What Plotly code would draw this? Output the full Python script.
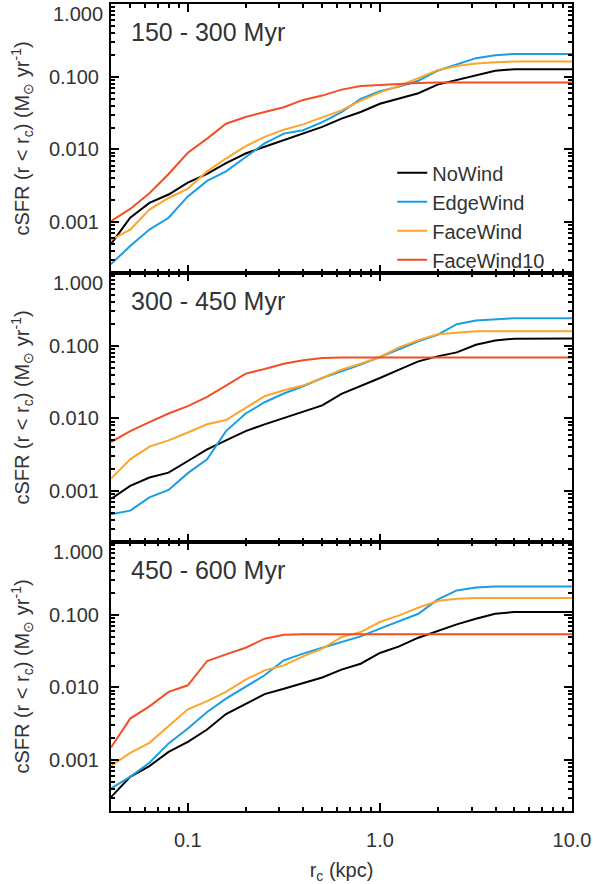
import plotly.graph_objects as go
from plotly.subplots import make_subplots

# ---------------- data ----------------
r_c = [0.0398, 0.0501, 0.0631, 0.0794, 0.100, 0.126, 0.158, 0.200, 0.251, 0.316,
       0.398, 0.501, 0.631, 0.794, 1.000, 1.259, 1.585, 1.995, 2.512, 3.162,
       3.981, 5.012, 6.310, 7.943, 10.000]

panel_labels = ["150 - 300 Myr", "300 - 450 Myr", "450 - 600 Myr"]
series_names = ["NoWind", "EdgeWind", "FaceWind", "FaceWind10"]

p1_nowind = [0.0005, 0.00115, 0.00184, 0.0024, 0.0035, 0.0046, 0.0065, 0.0088, 0.0109, 0.0134,
             0.0165, 0.0204, 0.0265, 0.0327, 0.0424, 0.0507, 0.0593, 0.0778, 0.090, 0.106,
             0.121, 0.127, 0.127, 0.127, 0.127]
p1_edgewind = [0.000265, 0.00047, 0.00079, 0.00115, 0.00226, 0.0037, 0.005, 0.0079, 0.0121, 0.0165,
               0.0184, 0.0238, 0.0327, 0.0496, 0.063, 0.073, 0.088, 0.121, 0.146, 0.18,
               0.197, 0.206, 0.206, 0.206, 0.206]
p1_facewind = [0.00057, 0.00079, 0.00149, 0.00215, 0.0029, 0.005, 0.0075, 0.0111, 0.0149, 0.0187,
               0.0221, 0.0273, 0.0344, 0.047, 0.061, 0.075, 0.096, 0.123, 0.14, 0.152,
               0.158, 0.162, 0.162, 0.162, 0.162]
p1_facewind10 = [0.00103, 0.00152, 0.0025, 0.0046, 0.009, 0.0141, 0.0226, 0.0279, 0.0327, 0.038,
                 0.048, 0.055, 0.0665, 0.0746, 0.077, 0.080, 0.082, 0.083, 0.083, 0.083,
                 0.083, 0.083, 0.083, 0.083, 0.083]

p2_nowind = [0.00078, 0.00118, 0.00154, 0.0018, 0.0026, 0.00376, 0.005, 0.0067, 0.0083, 0.0102,
             0.0126, 0.0151, 0.0218, 0.0277, 0.036, 0.0469, 0.061, 0.0714, 0.081, 0.103,
             0.118, 0.125, 0.126, 0.126, 0.126]
p2_edgewind = [0.00048, 0.00054, 0.00082, 0.00104, 0.00177, 0.00274, 0.0067, 0.0117, 0.0167, 0.022,
               0.0277, 0.036, 0.0444, 0.055, 0.07, 0.09, 0.115, 0.141, 0.198, 0.222,
               0.232, 0.239, 0.239, 0.239, 0.239]
p2_facewind = [0.00149, 0.00274, 0.0041, 0.005, 0.0064, 0.0083, 0.0095, 0.014, 0.0202, 0.0244,
               0.0283, 0.036, 0.0469, 0.0566, 0.07, 0.095, 0.119, 0.144, 0.152, 0.158,
               0.158, 0.158, 0.158, 0.158, 0.158]
p2_facewind10 = [0.00474, 0.0067, 0.0089, 0.0117, 0.0148, 0.0198, 0.0283, 0.0413, 0.0479, 0.0566,
                 0.063, 0.0678, 0.069, 0.069, 0.069, 0.069, 0.069, 0.069, 0.069, 0.069,
                 0.069, 0.069, 0.069, 0.069, 0.069]

p3_nowind = [0.00031, 0.00059, 0.00083, 0.0013, 0.00179, 0.00264, 0.0043, 0.006, 0.0081, 0.0096,
             0.0115, 0.0137, 0.0176, 0.0212, 0.0298, 0.0367, 0.0483, 0.0597, 0.0736, 0.088,
             0.103, 0.109, 0.109, 0.109, 0.109]
p3_edgewind = [0.00041, 0.00059, 0.00092, 0.0017, 0.00272, 0.0046, 0.0070, 0.0102, 0.0147, 0.0236,
               0.0292, 0.0352, 0.0422, 0.0504, 0.0643, 0.0818, 0.103, 0.161, 0.216, 0.237,
               0.245, 0.245, 0.245, 0.245, 0.245]
p3_facewind = [0.00083, 0.00126, 0.00173, 0.0029, 0.005, 0.0065, 0.0087, 0.0128, 0.0172, 0.0201,
               0.0268, 0.0341, 0.0493, 0.0578, 0.0794, 0.098, 0.125, 0.154, 0.166, 0.17,
               0.17, 0.17, 0.17, 0.17, 0.17]
p3_facewind10 = [0.00149, 0.00373, 0.0055, 0.0087, 0.0107, 0.0231, 0.0285, 0.0352, 0.0468, 0.053,
                 0.0537, 0.054, 0.054, 0.054, 0.054, 0.054, 0.054, 0.054, 0.054, 0.054,
                 0.054, 0.054, 0.054, 0.054, 0.054]

panels = [
    [p1_nowind, p1_edgewind, p1_facewind, p1_facewind10],
    [p2_nowind, p2_edgewind, p2_facewind, p2_facewind10],
    [p3_nowind, p3_edgewind, p3_facewind, p3_facewind10],
]

y_tickvals = [0.001, 0.01, 0.1, 1.0]
y_ticktext = ["0.001", "0.010", "0.100", ""]
y_top_label = "1.000"
x_tickvals = [0.1, 1.0, 10.0]
x_ticktext = ["0.1", "1.0", "10.0"]

# ---------------- styles ----------------
colors = ["#000000", "#1a9ee0", "#fba52a", "#f24f25"]
FONT = "Liberation Sans, Arial, Helvetica, sans-serif"
TXT = "#333333"

y_minor = [m * 10.0 ** e for e in (-4, -3, -2, -1) for m in range(2, 10)]
x_minor = [m * 10.0 ** e for e in (-2, -1, 0) for m in range(2, 10)]

fig = make_subplots(rows=3, cols=1, shared_xaxes=True, vertical_spacing=0)

for i, (vals, label) in enumerate(zip(panels, panel_labels)):
    row = i + 1
    for name, y, c in zip(series_names, vals, colors):
        fig.add_trace(
            go.Scatter(x=r_c, y=y, mode="lines", name=name,
                       line=dict(color=c, width=2),
                       showlegend=(i == 0)),
            row=row, col=1)
    fig.update_yaxes(
        type="log", range=[-3.699, 0.0], automargin=False,
        tickmode="array", tickvals=y_tickvals, ticktext=y_ticktext,
        ticks="inside", ticklen=8, tickwidth=2, tickcolor="black",
        minor=dict(tickmode="array", tickvals=y_minor, ticks="inside",
                   ticklen=4, tickwidth=1.5, tickcolor="black", showgrid=False),
        showline=True, linewidth=2, linecolor="black", mirror="ticks",
        showgrid=False, zeroline=False,
        tickfont=dict(family=FONT, size=20, color=TXT),
        ticklabelstandoff=6,
        title=dict(text="cSFR (r < r<sub>c</sub>) (M<sub>⊙</sub> yr<sup>-1</sup>)",
                   font=dict(family=FONT, size=20, color=TXT), standoff=14),
        row=row, col=1)
    fig.update_xaxes(
        type="log", range=[-1.4, 1.0], automargin=False,
        tickmode="array", tickvals=x_tickvals, ticktext=x_ticktext,
        ticks="inside", ticklen=8, tickwidth=2, tickcolor="black",
        minor=dict(tickmode="array", tickvals=x_minor, ticks="inside",
                   ticklen=4, tickwidth=1.5, tickcolor="black", showgrid=False),
        showline=True, linewidth=2, linecolor="black", mirror="ticks",
        showgrid=False, zeroline=False,
        tickfont=dict(family=FONT, size=20, color=TXT),
        row=row, col=1)
    yref = "y" if row == 1 else f"y{row}"
    xdom = "x domain" if row == 1 else f"x{row} domain"
    ydom = "y domain" if row == 1 else f"y{row} domain"
    fig.add_annotation(text=label, xref=xdom, yref=ydom, x=0.04, y=0.895,
                       xanchor="left", yanchor="middle", showarrow=False,
                       font=dict(family=FONT, size=25, color=TXT))
    fig.add_annotation(text=y_top_label, xref=xdom, yref=yref, x=0, y=0,
                       xanchor="right", yanchor="middle", xshift=-6, yshift=-10,
                       showarrow=False, font=dict(family=FONT, size=20, color=TXT))

fig.update_xaxes(ticklabelstandoff=10,
                 title=dict(text="r<sub>c</sub> (kpc)",
                            font=dict(family=FONT, size=20, color=TXT), standoff=15),
                 row=3, col=1)

fig.update_layout(
    width=593, height=884,
    margin=dict(l=111, r=21, t=4, b=73, autoexpand=False),
    paper_bgcolor="white", plot_bgcolor="white",
    legend=dict(x=0.61, y=0.815, xanchor="left", yanchor="top",
                bgcolor="rgba(0,0,0,0)", font=dict(family=FONT, size=20, color=TXT),
                tracegroupgap=0, itemwidth=30),
)

fig.write_html("out.html",
               config={"displayModeBar": False},
               post_script="document.body.style.margin='0';document.body.style.overflow='hidden';")
